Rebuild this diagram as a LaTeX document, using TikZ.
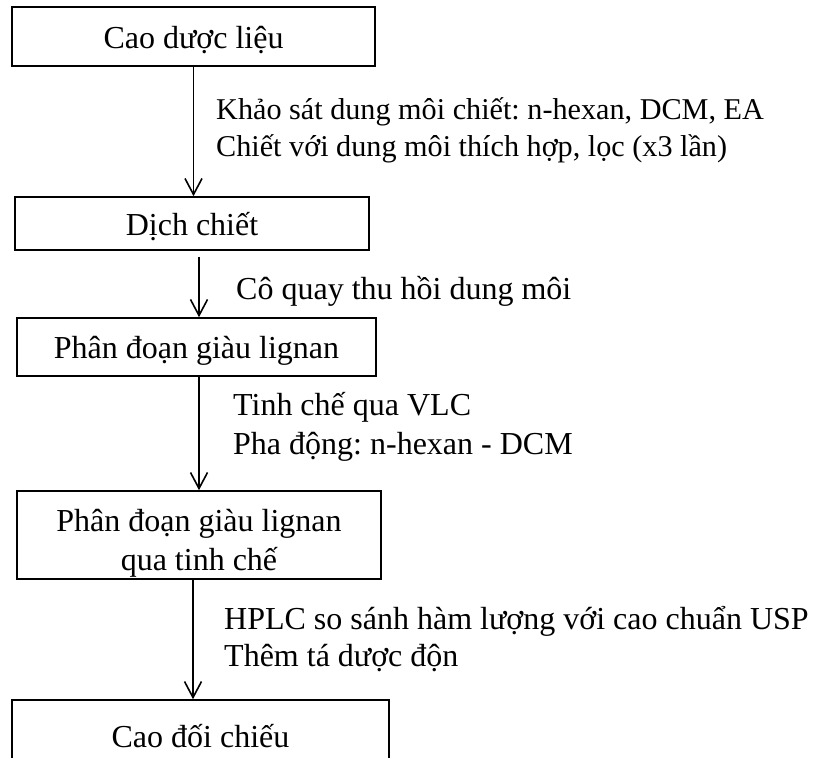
\documentclass[tikz,border=0pt]{standalone}
\usepackage{fontspec}
\setmainfont{Liberation Serif}
\usetikzlibrary{arrows.meta}
\frenchspacing
\begin{document}
\begin{tikzpicture}[x=1pt,y=-1pt,
  every node/.style={font=\fontsize{32}{38.5}\selectfont},
  stage/.style={draw, line width=1.6pt, inner sep=0pt, align=center},
  oneline/.style={text height=30pt, text depth=7pt},
  note/.style={anchor=base west, inner sep=0pt},
  smallnote/.style={note, font=\fontsize{30.2}{36}\selectfont},
  flow/.style={line width=1.6pt, -{Straight Barb[length=16pt,width=17pt,line width=1.6pt]}}]
\useasboundingbox (0,0) rectangle (815,758);
\clip (0,0) rectangle (815,758);

% process stages
\node[stage, oneline, minimum width=363pt, minimum height=59pt] (b1) at (193.5,36.5) {Cao dược liệu};
\node[stage, oneline, minimum width=354pt, minimum height=53pt] (b2) at (192,223.5) {Dịch chiết};
\node[stage, oneline, minimum width=359pt, minimum height=58pt] (b3) at (196.5,347) {Phân đoạn giàu lignan};
\node[stage, text height=77pt, text depth=7pt, minimum width=364pt, minimum height=88pt] (b4) at (199,535) {Phân đoạn giàu lignan\\qua tinh chế};
\node[stage, oneline, minimum width=377pt, minimum height=72pt] (b5) at (200.5,736) {Cao đối chiếu};

% connectors
\draw[flow] (b1.south) -- (b1.south |- b2.north);
\draw[flow] ([xshift=7pt,yshift=-6pt]b2.south) -- ([xshift=7pt]b2.south |- b3.north);
\draw[flow] ([xshift=2.5pt]b3.south) -- ([xshift=2.5pt]b3.south |- b4.north);
\draw[flow] ([xshift=-6pt]b4.south) -- ([xshift=-6pt]b4.south |- b5.north);

% step descriptions
\node[smallnote] (t1a) at (216,119) {Khảo sát dung môi chiết: n-hexan, DCM, EA};
\node[smallnote] (t1b) at (216,156) {Chiết với dung môi thích hợp, lọc (x3 lần)};
\node[note] (t2)  at (236,299) {Cô quay thu hồi dung môi};
\node[note] (t3a) at (233,415) {Tinh chế qua VLC};
\node[note] (t3b) at (233,454) {Pha động: n-hexan - DCM};
\node[note] (t4a) at (224,629) {HPLC so sánh hàm lượng với cao chuẩn USP};
\node[note] (t4b) at (224,666) {Thêm tá dược độn};
\end{tikzpicture}
\end{document}
